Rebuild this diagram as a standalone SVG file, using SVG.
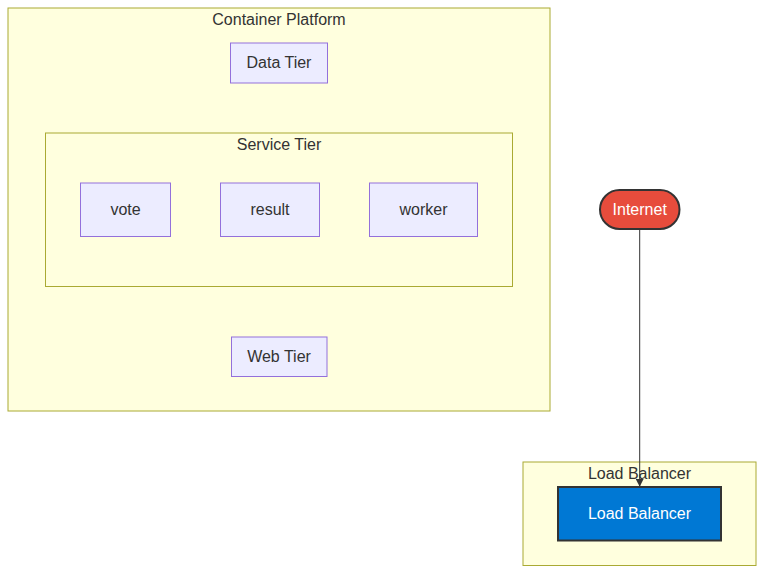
<svg xmlns="http://www.w3.org/2000/svg" width="764" height="574" viewBox="0 0 764 574">
<style>
text{font-family:"Liberation Sans",Arial,sans-serif;font-size:16px;fill:#333;text-anchor:middle;dominant-baseline:central}
.cl{fill:#ffffde;stroke:#aaaa33;stroke-width:1}
.nd{fill:#ececff;stroke:#9370db;stroke-width:1}
</style>
<defs>
<marker id="arr" viewBox="0 0 10 10" refX="9" refY="5" markerWidth="8" markerHeight="8" markerUnits="userSpaceOnUse" orient="auto">
<path d="M0,0L10,5L0,10z" fill="#333"/>
</marker>
</defs>
<rect width="764" height="574" fill="#fff"/>
<g id="cluster-container">
<rect class="cl" x="8" y="8" width="542" height="403"/>
<text x="279" y="19">Container Platform</text>
</g>
<g id="cluster-service">
<rect class="cl" x="45.5" y="133" width="467" height="153.5"/>
<text x="279" y="144">Service Tier</text>
</g>
<g id="cluster-lb">
<rect class="cl" x="523" y="462" width="233" height="103.5"/>
<text x="639.5" y="473">Load Balancer</text>
</g>
<g id="node-data">
<rect class="nd" x="230.5" y="43" width="97" height="40"/>
<text x="279" y="62">Data Tier</text>
</g>
<g id="node-vote">
<rect class="nd" x="80.5" y="183" width="90" height="53.5"/>
<text x="125.5" y="209">vote</text>
</g>
<g id="node-result">
<rect class="nd" x="220.5" y="183" width="99" height="53.5"/>
<text x="270" y="209">result</text>
</g>
<g id="node-worker">
<rect class="nd" x="369.5" y="183" width="108" height="53.5"/>
<text x="423.5" y="209">worker</text>
</g>
<g id="node-web">
<rect class="nd" x="231.5" y="337" width="95.5" height="39.5"/>
<text x="279" y="356">Web Tier</text>
</g>
<g id="node-internet">
<rect x="600" y="190" width="79.5" height="39" rx="19.5" ry="19.5" fill="#e74c3c" stroke="#333" stroke-width="2"/>
<text x="639.7" y="209" style="fill:#fff">Internet</text>
</g>
<g id="node-lb">
<rect x="558" y="487" width="163" height="53.5" fill="#0078d4" stroke="#333" stroke-width="2"/>
<text x="639.5" y="513" style="fill:#fff">Load Balancer</text>
</g>
<g id="connectors">
<path d="M639.7,229L639.7,486" fill="none" stroke="#333" stroke-width="1" marker-end="url(#arr)"/>
</g>
</svg>
